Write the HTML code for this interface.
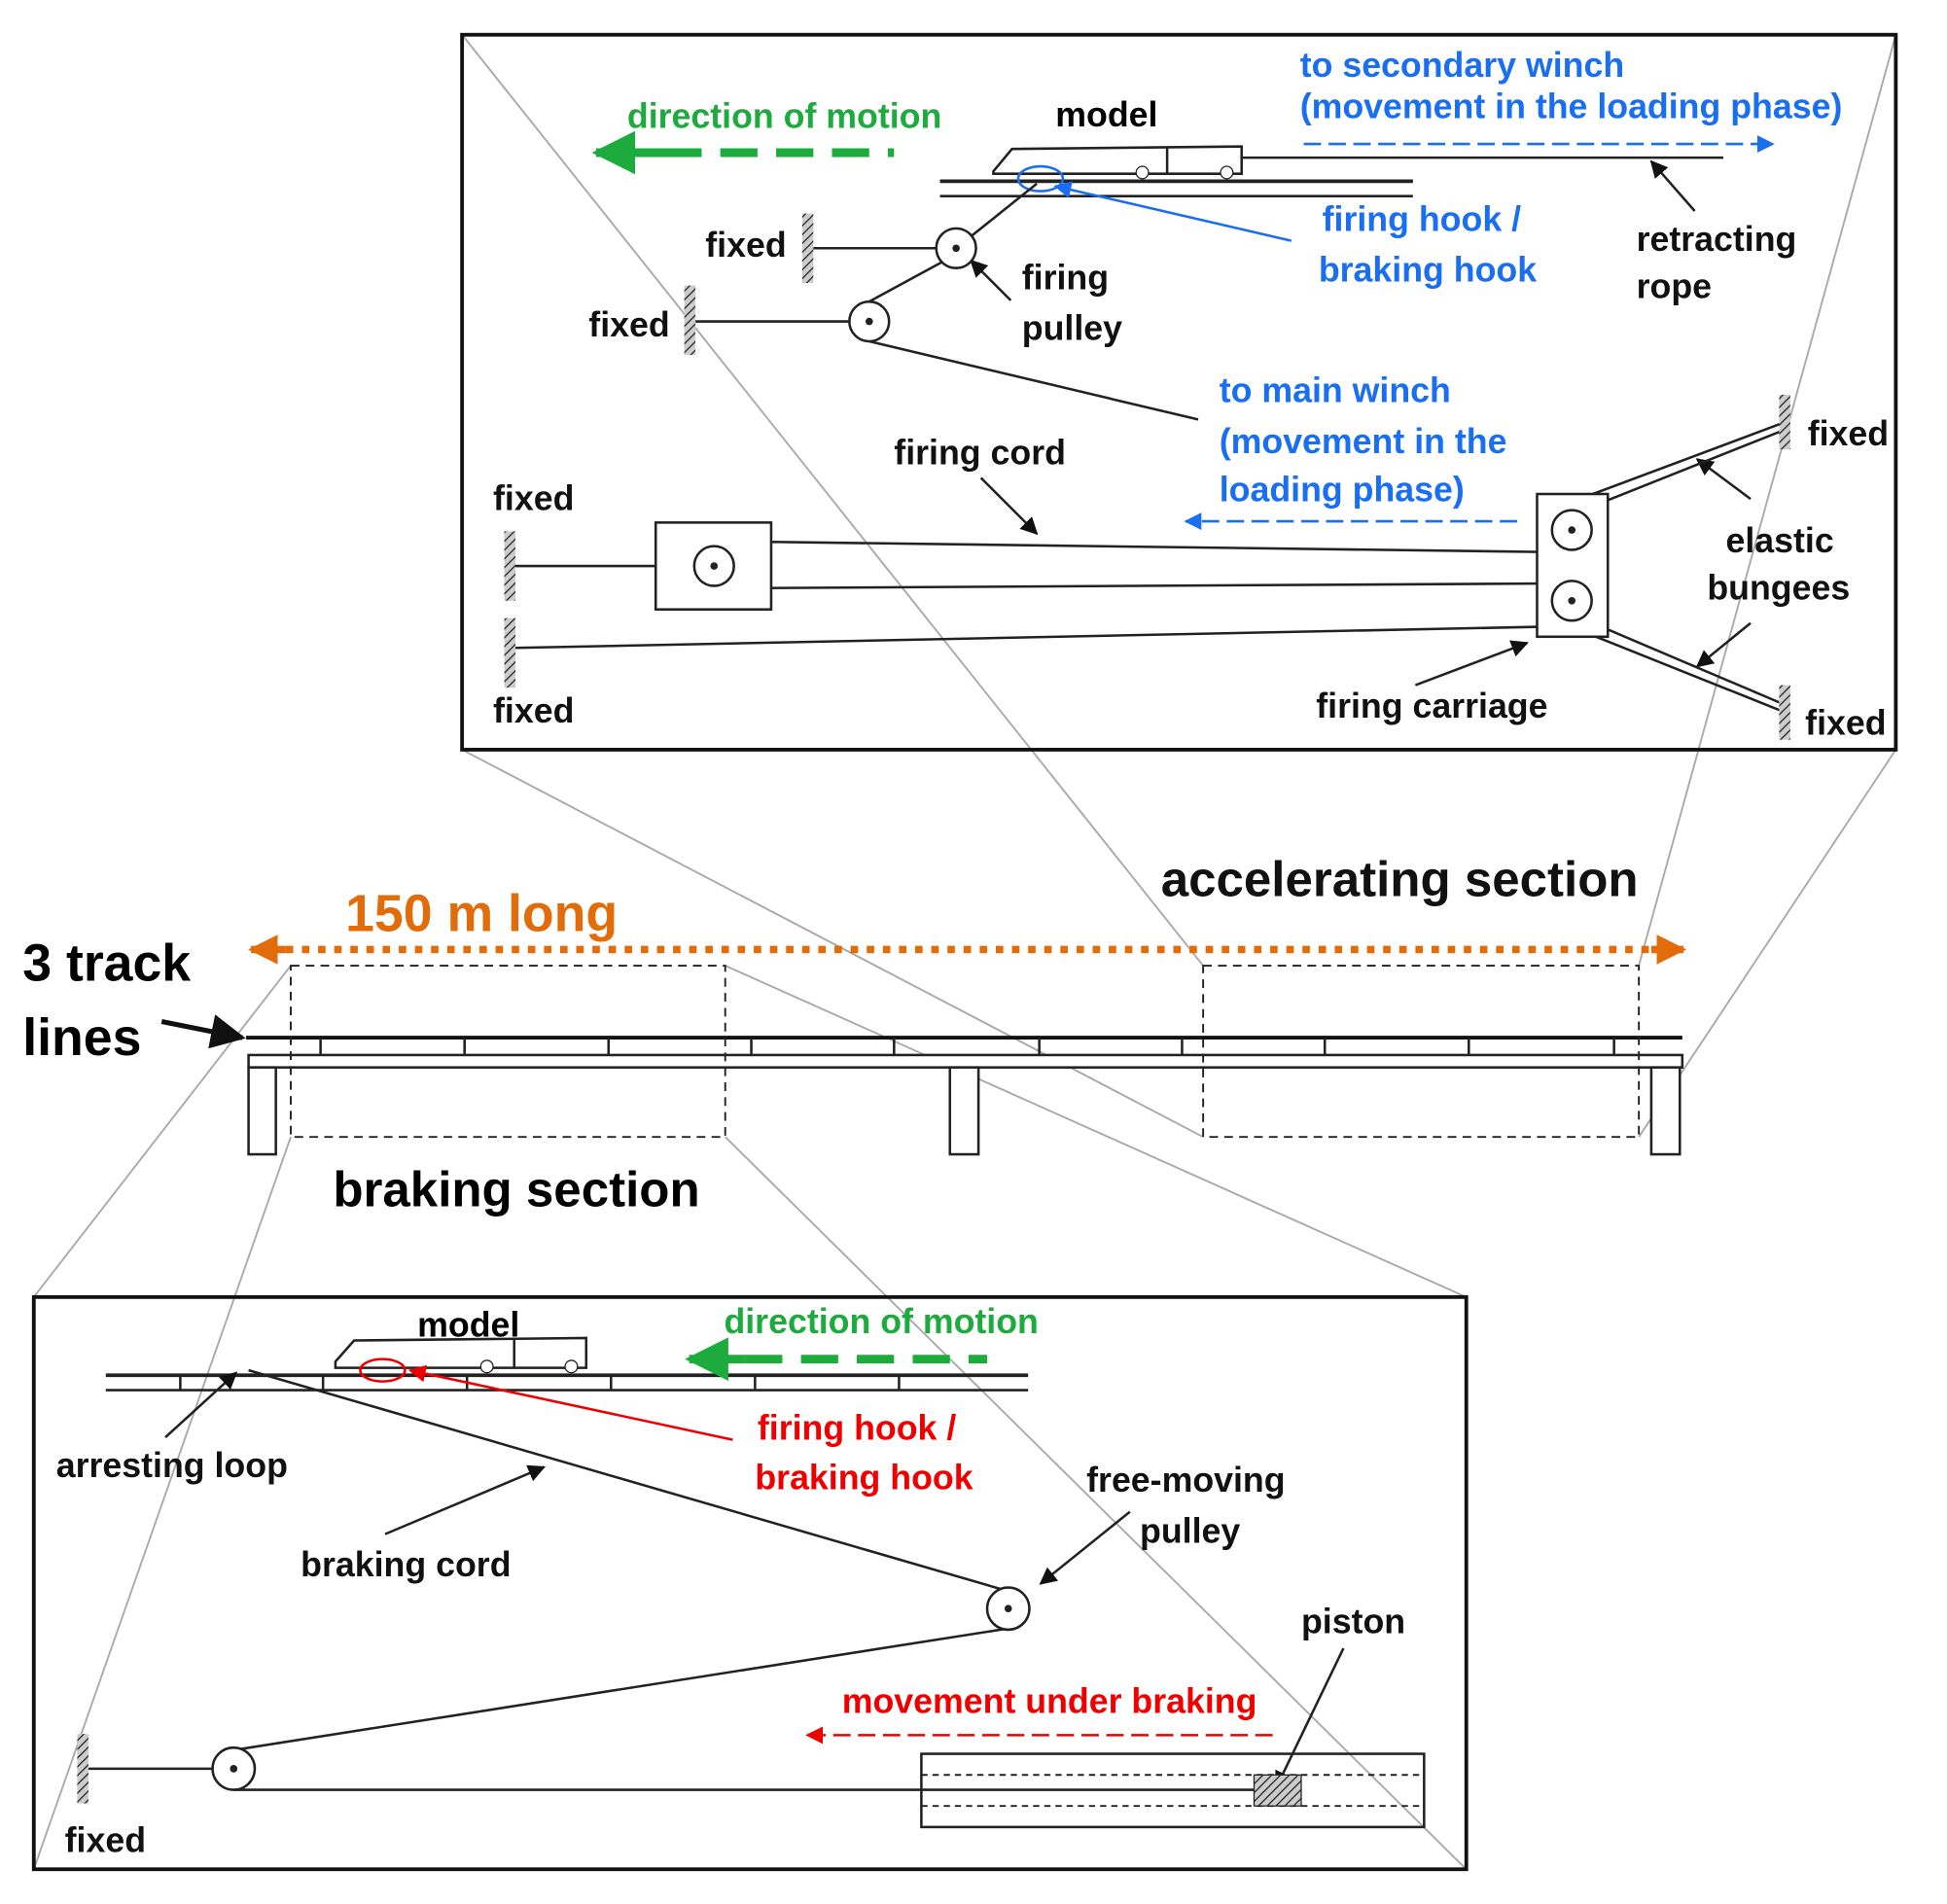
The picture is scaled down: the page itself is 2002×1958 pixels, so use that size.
<!DOCTYPE html>
<html><head><meta charset="utf-8"><style>
html,body{margin:0;padding:0;background:#fff}
svg{display:block}
text{font-family:"Liberation Sans",sans-serif}
</style></head><body>
<svg width="2002" height="1958" viewBox="0 0 1568 1534" xmlns="http://www.w3.org/2000/svg">
<defs>
<marker id="ak" viewBox="0 0 10 10" refX="9" refY="5" markerWidth="7" markerHeight="7" orient="auto"><path d="M0,0L10,5L0,10z" fill="#111"/></marker>
<marker id="ab" viewBox="0 0 10 10" refX="9" refY="5" markerWidth="7" markerHeight="7" orient="auto"><path d="M0,0L10,5L0,10z" fill="#1a6ef0"/></marker>
<marker id="ar" viewBox="0 0 10 10" refX="9" refY="5" markerWidth="7" markerHeight="7" orient="auto"><path d="M0,0L10,5L0,10z" fill="#e00"/></marker>
<marker id="ag" viewBox="0 0 10 10" refX="9" refY="5" markerWidth="5" markerHeight="5" orient="auto"><path d="M0,0L10,5L0,10z" fill="#1cab3c"/></marker>
<marker id="ao" viewBox="0 0 10 10" refX="9" refY="5" markerWidth="4" markerHeight="4" orient="auto"><path d="M0,0L10,5L0,10z" fill="#e36c0a"/></marker>
<pattern id="hatch" width="5" height="5" patternUnits="userSpaceOnUse" patternTransform="rotate(45)"><rect width="5" height="5" fill="#ccc"/><line x1="0" y1="0" x2="0" y2="5" stroke="#222" stroke-width="2"/></pattern>
</defs>
<g stroke="#aaa" stroke-width="1.5">
<line x1="372" y1="28" x2="969" y2="778"/>
<line x1="1527" y1="28" x2="1320" y2="778"/>
<line x1="372" y1="604" x2="969" y2="916"/>
<line x1="1527" y1="604" x2="1320" y2="916"/>
<line x1="234" y1="778" x2="27" y2="1045"/>
<line x1="234" y1="916" x2="27" y2="1506"/>
<line x1="584" y1="778" x2="1181" y2="1045"/>
<line x1="584" y1="916" x2="1181" y2="1506"/>
</g>
<rect x="372" y="28" width="1155" height="576" fill="none" stroke="#111" stroke-width="3"/>
<g fill="#1cab3c" font-size="28" font-weight="bold"><text x="505" y="103">direction of motion</text></g>
<line x1="565" y1="123" x2="480" y2="123" stroke="#1cab3c" stroke-width="7" marker-end="url(#ag)"/>
<line x1="580" y1="123" x2="720" y2="123" stroke="#1cab3c" stroke-width="7" stroke-dasharray="30,15"/>
<text x="850" y="102" font-size="28" font-weight="bold">model</text>
<path d="M800,138 L815,120 L1000,118 L1000,140 L800,140z" fill="#fff" stroke="#222" stroke-width="2"/>
<line x1="940" y1="118" x2="940" y2="140" stroke="#222" stroke-width="2"/>
<circle cx="920" cy="139" r="5" fill="#fff" stroke="#222"/><circle cx="988" cy="139" r="5" fill="#fff" stroke="#222"/>
<line x1="757" y1="146" x2="1138" y2="146" stroke="#222" stroke-width="3"/>
<line x1="757" y1="158" x2="1138" y2="158" stroke="#222" stroke-width="2"/>
<line x1="1000" y1="127" x2="1388" y2="127" stroke="#222" stroke-width="2"/>
<ellipse cx="838" cy="144" rx="18" ry="10" fill="none" stroke="#1a6ef0" stroke-width="2"/>
<g fill="#1a6ef0" font-size="28" font-weight="bold">
<text x="1047" y="62">to secondary winch</text>
<text x="1047" y="95">(movement in the loading phase)</text>
<text x="1065" y="186">firing hook /</text><text x="1062" y="227">braking hook</text>
<text x="982" y="324">to main winch</text><text x="982" y="365">(movement in the</text><text x="982" y="404">loading phase)</text>
</g>
<line x1="1050" y1="116" x2="1428" y2="116" stroke="#1a6ef0" stroke-width="2" stroke-dasharray="14,6" marker-end="url(#ab)"/>
<line x1="1040" y1="194" x2="850" y2="150" stroke="#1a6ef0" stroke-width="2" marker-end="url(#ab)"/>
<line x1="1222" y1="420" x2="955" y2="420" stroke="#1a6ef0" stroke-width="2" stroke-dasharray="14,6" marker-end="url(#ab)"/>
<g font-size="28" font-weight="bold" fill="#111">
<text x="1318" y="202">retracting</text><text x="1318" y="240">rope</text>
<text x="568" y="207">fixed</text><text x="474" y="271">fixed</text>
<text x="823" y="233">firing</text><text x="823" y="274">pulley</text>
<text x="720" y="374">firing cord</text>
<text x="397" y="411">fixed</text><text x="397" y="582">fixed</text>
<text x="1456" y="359">fixed</text><text x="1454" y="592">fixed</text>
<text x="1390" y="445">elastic</text><text x="1375" y="483">bungees</text>
<text x="1060" y="578">firing carriage</text>
</g>
<g stroke="#222" stroke-width="2" fill="none">
<line x1="1365" y1="170" x2="1330" y2="130" marker-end="url(#ak)"/>
<line x1="814" y1="242" x2="782" y2="210" marker-end="url(#ak)"/>
<line x1="790" y1="385" x2="835" y2="430" marker-end="url(#ak)"/>
<line x1="1410" y1="402" x2="1367" y2="370" marker-end="url(#ak)"/>
<line x1="1410" y1="502" x2="1367" y2="537" marker-end="url(#ak)"/>
<line x1="1140" y1="552" x2="1230" y2="518" marker-end="url(#ak)"/>
<line x1="655" y1="200" x2="770" y2="200"/>
<line x1="560" y1="259" x2="700" y2="259"/>
<line x1="770" y1="200" x2="835" y2="148"/>
<line x1="770" y1="205" x2="700" y2="243"/>
<line x1="700" y1="275" x2="965" y2="338"/>
<line x1="415" y1="456" x2="528" y2="456"/>
<line x1="575" y1="436" x2="1265" y2="445"/>
<line x1="575" y1="474" x2="1265" y2="470"/>
<line x1="415" y1="522" x2="1240" y2="505"/>
<line x1="1283" y1="398" x2="1438" y2="340"/><line x1="1290" y1="405" x2="1438" y2="346"/>
<line x1="1283" y1="512" x2="1438" y2="574"/><line x1="1290" y1="505" x2="1438" y2="568"/>
</g>
<g stroke="#222" stroke-width="2" fill="#fff">
<circle cx="770" cy="200" r="16"/><circle cx="700" cy="259" r="16"/>
<rect x="528" y="421" width="93" height="70"/><circle cx="575" cy="456" r="16"/>
<rect x="1238" y="398" width="57" height="115"/><circle cx="1266" cy="427" r="16"/><circle cx="1266" cy="484" r="16"/>
</g>
<g fill="#222"><circle cx="770" cy="200" r="3"/><circle cx="700" cy="259" r="3"/><circle cx="575" cy="456" r="3"/><circle cx="1266" cy="427" r="3"/><circle cx="1266" cy="484" r="3"/></g>
<g fill="url(#hatch)"><rect x="646" y="172" width="9" height="56"/><rect x="551" y="230" width="9" height="56"/><rect x="406" y="428" width="9" height="56"/><rect x="406" y="498" width="9" height="56"/><rect x="1433" y="318" width="9" height="44"/><rect x="1433" y="552" width="9" height="44"/></g>
<text x="278" y="750" font-size="42" font-weight="bold" fill="#e36c0a">150 m long</text>
<text x="935" y="722" font-size="40" font-weight="bold" fill="#111">accelerating section</text>
<line x1="230" y1="765" x2="1340" y2="765" stroke="#e36c0a" stroke-width="6" stroke-dasharray="6,7"/>
<line x1="230" y1="765" x2="202" y2="765" stroke="#e36c0a" stroke-width="6" marker-end="url(#ao)"/>
<line x1="1330" y1="765" x2="1356" y2="765" stroke="#e36c0a" stroke-width="6" marker-end="url(#ao)"/>
<text x="18" y="790" font-size="42" font-weight="bold">3 track</text>
<text x="18" y="850" font-size="42" font-weight="bold">lines</text>
<line x1="130" y1="823" x2="195" y2="836" stroke="#111" stroke-width="4" marker-end="url(#ak)"/>
<line x1="198" y1="836" x2="1355" y2="836" stroke="#111" stroke-width="3"/>
<g stroke="#222" stroke-width="2" fill="#fff">
<rect x="200" y="850" width="1155" height="10"/>
<rect x="200" y="860" width="22" height="70"/><rect x="765" y="860" width="23" height="70"/><rect x="1330" y="860" width="23" height="70"/>
</g>
<g stroke="#222" stroke-width="2">
<line x1="258" y1="836" x2="258" y2="850"/><line x1="374" y1="836" x2="374" y2="850"/><line x1="490" y1="836" x2="490" y2="850"/><line x1="605" y1="836" x2="605" y2="850"/><line x1="720" y1="836" x2="720" y2="850"/><line x1="837" y1="836" x2="837" y2="850"/><line x1="952" y1="836" x2="952" y2="850"/><line x1="1067" y1="836" x2="1067" y2="850"/><line x1="1183" y1="836" x2="1183" y2="850"/><line x1="1300" y1="836" x2="1300" y2="850"/>
</g>
<g stroke="#222" stroke-width="1.5" fill="none" stroke-dasharray="7,5">
<rect x="234" y="778" width="350" height="138"/><rect x="969" y="778" width="351" height="138"/>
</g>
<text x="268" y="972" font-size="40" font-weight="bold">braking section</text>
<rect x="27" y="1045" width="1154" height="461" fill="none" stroke="#111" stroke-width="3"/>
<text x="336" y="1077" font-size="28" font-weight="bold">model</text>
<path d="M270,1097 L285,1080 L472,1078 L472,1102 L270,1102z" fill="#fff" stroke="#222" stroke-width="2"/>
<line x1="414" y1="1078" x2="414" y2="1102" stroke="#222" stroke-width="2"/>
<circle cx="392" cy="1101" r="5" fill="#fff" stroke="#222"/><circle cx="460" cy="1101" r="5" fill="#fff" stroke="#222"/>
<line x1="85" y1="1108" x2="828" y2="1108" stroke="#222" stroke-width="3"/>
<line x1="85" y1="1120" x2="828" y2="1120" stroke="#222" stroke-width="2"/>
<g stroke="#222" stroke-width="2"><line x1="145" y1="1108" x2="145" y2="1120"/><line x1="260" y1="1108" x2="260" y2="1120"/><line x1="376" y1="1108" x2="376" y2="1120"/><line x1="492" y1="1108" x2="492" y2="1120"/><line x1="608" y1="1108" x2="608" y2="1120"/><line x1="724" y1="1108" x2="724" y2="1120"/></g>
<text x="583" y="1074" font-size="28" font-weight="bold" fill="#1cab3c">direction of motion</text>
<line x1="600" y1="1095" x2="555" y2="1095" stroke="#1cab3c" stroke-width="7" marker-end="url(#ag)"/>
<line x1="600" y1="1095" x2="795" y2="1095" stroke="#1cab3c" stroke-width="7" stroke-dasharray="30,15"/>
<ellipse cx="308" cy="1104" rx="18" ry="9" fill="none" stroke="#e00" stroke-width="2"/>
<line x1="590" y1="1160" x2="330" y2="1104" stroke="#e00" stroke-width="2" marker-end="url(#ar)"/>
<g fill="#e00" font-size="28" font-weight="bold">
<text x="610" y="1160">firing hook /</text><text x="608" y="1200">braking hook</text>
<text x="678" y="1380">movement under braking</text></g>
<line x1="1025" y1="1398" x2="650" y2="1398" stroke="#e00" stroke-width="2" stroke-dasharray="14,6" marker-end="url(#ar)"/>
<g font-size="28" font-weight="bold" fill="#111">
<text x="45" y="1190">arresting loop</text><text x="242" y="1270">braking cord</text>
<text x="875" y="1202">free-moving</text><text x="918" y="1243">pulley</text>
<text x="1048" y="1316">piston</text><text x="52" y="1492">fixed</text></g>
<g stroke="#222" stroke-width="2" fill="none">
<line x1="133" y1="1158" x2="190" y2="1106" marker-end="url(#ak)"/>
<line x1="310" y1="1236" x2="438" y2="1182" marker-end="url(#ak)"/>
<line x1="910" y1="1218" x2="838" y2="1276" marker-end="url(#ak)"/>
<line x1="1082" y1="1328" x2="1028" y2="1440" marker-end="url(#ak)"/>
<line x1="200" y1="1104" x2="812" y2="1282"/>
<line x1="812" y1="1312" x2="188" y2="1410"/>
<line x1="70" y1="1425" x2="188" y2="1425"/>
<line x1="188" y1="1442" x2="1010" y2="1442"/>
<rect x="742" y="1413" width="405" height="59"/>
<line x1="742" y1="1430" x2="1147" y2="1430" stroke-dasharray="5,4" stroke-width="1.5"/>
<line x1="742" y1="1455" x2="1147" y2="1455" stroke-dasharray="5,4" stroke-width="1.5"/>
</g>
<rect x="1010" y="1430" width="38" height="25" fill="url(#hatch)" stroke="#222"/>
<rect x="62" y="1397" width="9" height="56" fill="url(#hatch)"/>
<g stroke="#222" stroke-width="2" fill="#fff"><circle cx="812" cy="1296" r="17"/><circle cx="188" cy="1425" r="17"/></g>
<g fill="#222"><circle cx="812" cy="1296" r="3"/><circle cx="188" cy="1425" r="3"/></g>
</svg>
</body></html>
